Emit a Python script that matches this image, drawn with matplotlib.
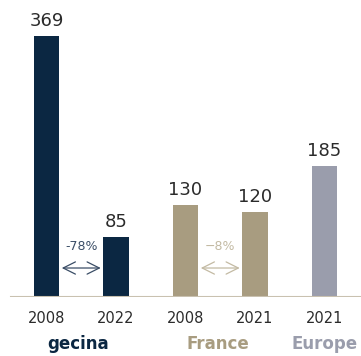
import numpy as np
import matplotlib.pyplot as plt

## DATA
years = ['2008', '2022', '2008', '2021', '2021']
values = [369, 85, 130, 120, 185]
groups = ['gecina', 'France', 'Europe']
group_pos = [0.45, 2.47, 4.0]
changes = ['-78%', '\u22128%']
change_pairs = [(0, 1), (2, 3)]

NAVY = '#0b2742'
BEIGE = '#a89c80'
GREY = '#9a9dac'
bar_colors = [NAVY, NAVY, BEIGE, BEIGE, GREY]
group_colors = [NAVY, BEIGE, GREY]
change_colors = ['#3a4d66', '#c3baa3']

plt.rcParams['font.family'] = ['DejaVu Sans']

fig = plt.figure(figsize=(3.61, 3.56), dpi=100)
# axes spans the whole width, baseline at 59 px from bottom
ax = fig.add_axes([0, 59 / 356, 1, 297 / 356])
ax.set_xlim(-0.669, 4.525)
ax.set_ylim(0, 420)

x = np.arange(len(values))
ax.bar(x, values, width=0.36, color=bar_colors, zorder=2)

for xi, v in zip(x, values):
    ax.text(xi, v + 9, str(v), ha='center', va='bottom', fontsize=13, color='#2b2b2b')

ax.axhline(0, xmin=11 / 361, xmax=1, color='#c9c1b0', lw=1.5, zorder=3)

# year labels
for xi, y in zip(x, years):
    ax.text(xi, -30, y, ha='center', va='center', fontsize=10.5, color='#2b2b2b')

# group labels
for gp, g, c in zip(group_pos, groups, group_colors):
    ax.text(gp, -67, g, ha='center', va='center', fontsize=12, fontweight='bold', color=c)

# change arrows
for (a, b), txt, c in zip(change_pairs, changes, change_colors):
    ax.annotate('', xy=(b - 0.22, 41), xytext=(a + 0.22, 41),
                arrowprops=dict(arrowstyle='<->', color=c, lw=0.9,
                                mutation_scale=22, shrinkA=0, shrinkB=0))
    ax.text((a + b) / 2, 71, txt, ha='center', va='center', fontsize=9, color=c)

ax.axis('off')
fig.savefig('out.png', dpi=100)
